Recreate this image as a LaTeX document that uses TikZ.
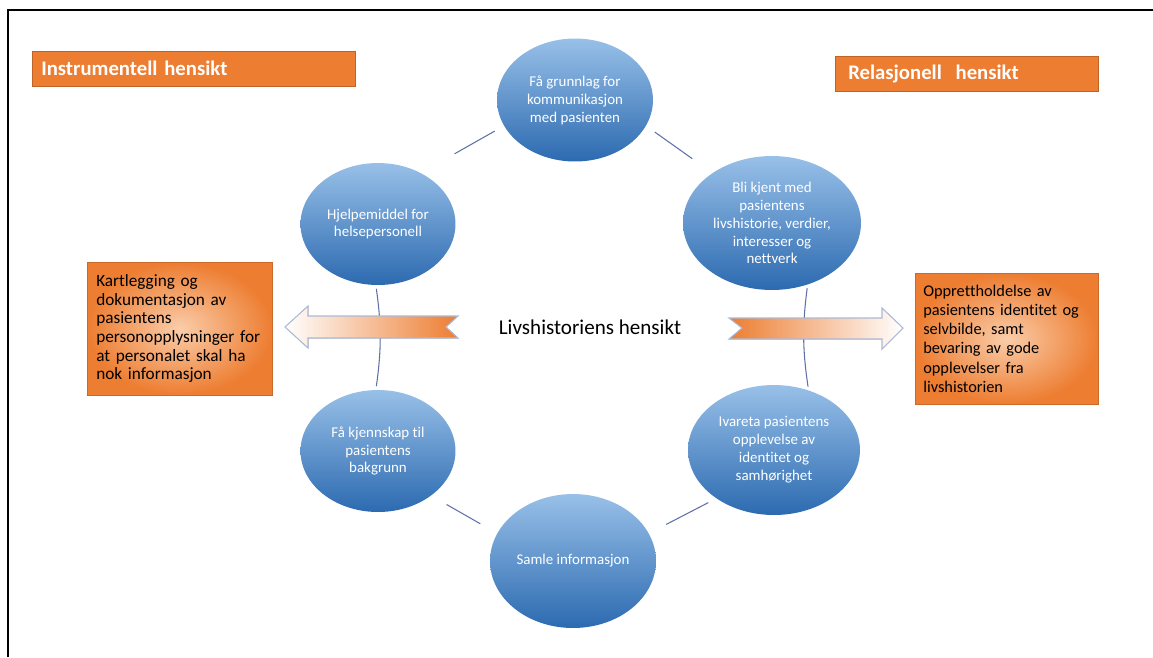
\documentclass[tikz,border=0pt]{standalone}
\usepackage{fontspec}
\setmainfont{Carlito}[Ligatures=NoCommon]
\usepackage{tikz}
\usepackage{xcolor}
\usetikzlibrary{shapes.geometric}
\definecolor{hkorange}{RGB}{237,125,49}
\definecolor{hkorangeL}{RGB}{250,205,170}
\definecolor{hkblueL}{RGB}{152,192,232}
\definecolor{hkblueD}{RGB}{44,106,176}
\definecolor{hkring}{RGB}{95,112,165}
\definecolor{hkedge}{RGB}{172,186,214}
\begin{document}
\begin{tikzpicture}[x=0.02cm,y=-0.02cm,
  bubble/.style={ellipse,top color=hkblueL,bottom color=hkblueD,draw=none,text=white,
    align=center,inner sep=0pt,font=\fontsize{8.5}{10.2}\selectfont},
  headbox/.style={rectangle,fill=hkorange,draw=hkorange!80!black,line width=0.3pt,text=white,
    anchor=north west,align=left,minimum height=0.7cm,font=\fontsize{11.8}{14}\bfseries\selectfont},
  notebox/.style={rectangle,shading=radial,inner color=hkorangeL,outer color=hkorange,
    draw=hkorange!85!black,line width=0.3pt,anchor=north west,align=left},
  ring/.style={draw=hkring,line width=0.6pt},
  bigarrow/.style={draw=hkedge,line width=0.6pt}]
\useasboundingbox (0,0) rectangle (1153,657);
\draw[line width=1.3pt] (8,657) -- (8,10) -- (1153,10);

\node[headbox,inner xsep=0.18cm,text width=6.1cm] (instr) at (32,51) {Instrumentell hensikt};
\node[headbox,inner xsep=0.26cm,text width=4.74cm] (relas) at (835,56) {Relasjonell\ \ hensikt};

\node[bubble,minimum width=3.12cm,minimum height=2.46cm] (grunnlag) at (575,100) {Få grunnlag for\\kommunikasjon\\med pasienten};
\node[bubble,minimum width=3.1cm,minimum height=2.44cm] (hjelp) at (378,224) {Hjelpemiddel for\\helsepersonell};
\node[bubble,minimum width=3.56cm,minimum height=2.68cm] (kjent) at (772,223) {Bli kjent med\\pasientens\\livshistorie, verdier,\\interesser og\\nettverk};
\node[bubble,minimum width=3.1cm,minimum height=2.44cm] (kjenn) at (378,451) {Få kjennskap til\\pasientens\\bakgrunn};
\node[bubble,minimum width=3.44cm,minimum height=2.6cm] (ivareta) at (774,450) {Ivareta pasientens\\opplevelse av\\identitet og\\samhørighet};
\node[bubble,minimum width=3.32cm,minimum height=2.68cm] (samle) at (573,561) {Samle informasjon};

\draw[ring,shorten <=6pt,shorten >=22pt] (grunnlag.200) -- (hjelp.50);
\draw[ring,shorten <=6pt,shorten >=14pt] (grunnlag.340) -- (kjent.140);
\draw[ring,shorten <=2pt,shorten >=2pt] (hjelp.268) to[bend left=8] (kjenn.92);
\draw[ring,shorten <=2pt,shorten >=2pt] (kjent.300) to[bend right=8] (ivareta.60);
\draw[ring,shorten <=10pt,shorten >=11pt] (kjenn.320) -- (samle.160);
\draw[ring,shorten <=5pt,shorten >=11pt] (ivareta.220) -- (samle.20);

\node[font=\fontsize{12}{14}\selectfont] (midt) at (590,327) {Livshistoriens hensikt};

\fill[left color=white,right color=hkorange] (285,327) -- (308,306) -- (308,316) -- (458,316) -- (446,327) -- (458,338) -- (308,338) -- (308,348) -- cycle;
\draw[bigarrow] (285,327) -- (308,306) -- (308,316) -- (458,316) -- (446,327) -- (458,338) -- (308,338) -- (308,348) -- cycle;
\fill[left color=hkorange,right color=white] (729,318) -- (882,318) -- (882,308) -- (903,328) -- (882,349) -- (882,339) -- (729,339) -- (742,328) -- cycle;
\draw[bigarrow] (729,318) -- (882,318) -- (882,308) -- (903,328) -- (882,349) -- (882,339) -- (729,339) -- (742,328) -- cycle;

\node[notebox,inner xsep=0.18cm,text width=3.34cm,minimum height=2.66cm,font=\fontsize{9.8}{10.6}\selectfont] (instrnote) at (87,262) {Kartlegging og\\dokumentasjon av\\pasientens\\personopplysninger for\\at personalet skal ha\\nok informasjon};
\node[notebox,inner xsep=0.16cm,text width=3.34cm,minimum height=2.62cm,font=\fontsize{9.3}{10.9}\selectfont] (relasnote) at (915,273) {Opprettholdelse av\\pasientens identitet og\\selvbilde, samt\\bevaring av gode\\opplevelser fra\\livshistorien};
\end{tikzpicture}
\end{document}
